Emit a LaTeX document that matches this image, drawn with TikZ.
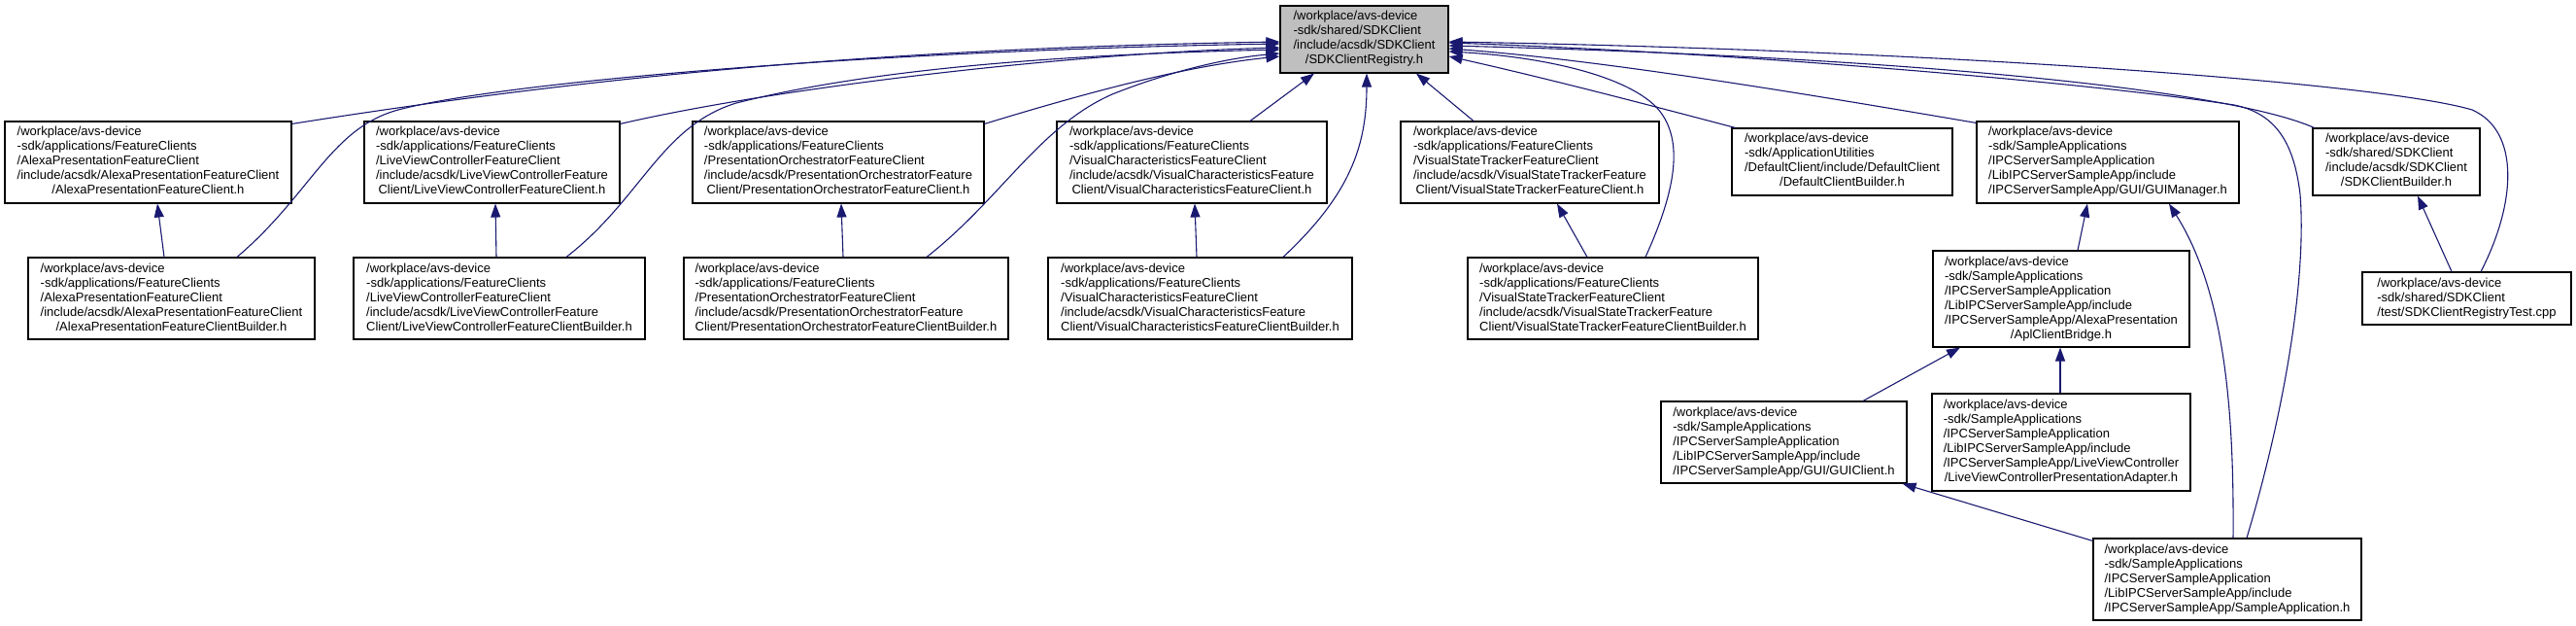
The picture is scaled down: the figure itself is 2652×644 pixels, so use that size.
\documentclass[tikz,border=0pt]{standalone}
\usepackage{fontspec}
\setmainfont{Liberation Sans}
\usetikzlibrary{arrows.meta}
\definecolor{edgeblue}{HTML}{191970}
\definecolor{topgray}{HTML}{BFBFBF}
\newcommand\lbl[2]{\begin{tabular}{@{}l@{}}#1\\\multicolumn{1}{@{}c@{}}{#2}\end{tabular}}
\begin{document}
\begin{tikzpicture}[x=1pt,y=-1pt,
  box/.style={draw=black, fill=white, line width=1.1pt, inner sep=0pt, rectangle,
    font=\fontsize{13}{15}\selectfont},
  h3/.style={minimum height=54pt},
  h4/.style={minimum height=69pt},
  h5/.style={minimum height=84pt},
  h6/.style={minimum height=99pt},
  dep/.style={draw=edgeblue, line width=1.1pt, -{Triangle[length=14pt,width=10pt]}}]
\useasboundingbox (0,0) rectangle (2652,644);

% nodes
\node[box,h4,fill=topgray,minimum width=173pt] (top) at (1404.5,40.5)
  {\lbl{/workplace/avs-device\\-sdk/shared/SDKClient\\/include/acsdk/SDKClient}{/SDKClientRegistry.h}};
\node[box,h5,minimum width=295pt] (a1) at (152.5,167)
  {\lbl{/workplace/avs-device\\-sdk/applications/FeatureClients\\/AlexaPresentationFeatureClient\\/include/acsdk/AlexaPresentationFeatureClient}{/AlexaPresentationFeatureClient.h}};
\node[box,h5,minimum width=295pt] (a2) at (176.5,307)
  {\lbl{/workplace/avs-device\\-sdk/applications/FeatureClients\\/AlexaPresentationFeatureClient\\/include/acsdk/AlexaPresentationFeatureClient}{/AlexaPresentationFeatureClientBuilder.h}};
\node[box,h5,minimum width=263pt] (l1) at (506.5,167)
  {\lbl{/workplace/avs-device\\-sdk/applications/FeatureClients\\/LiveViewControllerFeatureClient\\/include/acsdk/LiveViewControllerFeature}{Client/LiveViewControllerFeatureClient.h}};
\node[box,h5,minimum width=300pt] (l2) at (514,307)
  {\lbl{/workplace/avs-device\\-sdk/applications/FeatureClients\\/LiveViewControllerFeatureClient\\/include/acsdk/LiveViewControllerFeature}{Client/LiveViewControllerFeatureClientBuilder.h}};
\node[box,h5,minimum width=300pt] (p1) at (863,167)
  {\lbl{/workplace/avs-device\\-sdk/applications/FeatureClients\\/PresentationOrchestratorFeatureClient\\/include/acsdk/PresentationOrchestratorFeature}{Client/PresentationOrchestratorFeatureClient.h}};
\node[box,h5,minimum width=334pt] (p2) at (871,307)
  {\lbl{/workplace/avs-device\\-sdk/applications/FeatureClients\\/PresentationOrchestratorFeatureClient\\/include/acsdk/PresentationOrchestratorFeature}{Client/PresentationOrchestratorFeatureClientBuilder.h}};
\node[box,h5,minimum width=278pt] (v1) at (1227,167)
  {\lbl{/workplace/avs-device\\-sdk/applications/FeatureClients\\/VisualCharacteristicsFeatureClient\\/include/acsdk/VisualCharacteristicsFeature}{Client/VisualCharacteristicsFeatureClient.h}};
\node[box,h5,minimum width=313pt] (v2) at (1235.5,307)
  {\lbl{/workplace/avs-device\\-sdk/applications/FeatureClients\\/VisualCharacteristicsFeatureClient\\/include/acsdk/VisualCharacteristicsFeature}{Client/VisualCharacteristicsFeatureClientBuilder.h}};
\node[box,h5,minimum width=266pt] (vs1) at (1575,167)
  {\lbl{/workplace/avs-device\\-sdk/applications/FeatureClients\\/VisualStateTrackerFeatureClient\\/include/acsdk/VisualStateTrackerFeature}{Client/VisualStateTrackerFeatureClient.h}};
\node[box,h5,minimum width=299pt] (vs2) at (1660.5,307)
  {\lbl{/workplace/avs-device\\-sdk/applications/FeatureClients\\/VisualStateTrackerFeatureClient\\/include/acsdk/VisualStateTrackerFeature}{Client/VisualStateTrackerFeatureClientBuilder.h}};
\node[box,h4,minimum width=227pt] (dc) at (1896.5,166.5)
  {\lbl{/workplace/avs-device\\-sdk/ApplicationUtilities\\/DefaultClient/include/DefaultClient}{/DefaultClientBuilder.h}};
\node[box,h5,minimum width=270pt] (gm) at (2170,167)
  {\lbl{/workplace/avs-device\\-sdk/SampleApplications\\/IPCServerSampleApplication\\/LibIPCServerSampleApp/include}{/IPCServerSampleApp/GUI/GUIManager.h}};
\node[box,h4,minimum width=172pt] (sb) at (2467,166.5)
  {\lbl{/workplace/avs-device\\-sdk/shared/SDKClient\\/include/acsdk/SDKClient}{/SDKClientBuilder.h}};
\node[box,h6,minimum width=264pt] (ab) at (2122,307.5)
  {\lbl{/workplace/avs-device\\-sdk/SampleApplications\\/IPCServerSampleApplication\\/LibIPCServerSampleApp/include\\/IPCServerSampleApp/AlexaPresentation}{/AplClientBridge.h}};
\node[box,h3,minimum width=215pt] (rt) at (2539.5,307)
  {\lbl{/workplace/avs-device\\-sdk/shared/SDKClient}{/test/SDKClientRegistryTest.cpp}};
\node[box,h5,minimum width=253pt] (gc) at (1836.5,455)
  {\lbl{/workplace/avs-device\\-sdk/SampleApplications\\/IPCServerSampleApplication\\/LibIPCServerSampleApp/include}{/IPCServerSampleApp/GUI/GUIClient.h}};
\node[box,h6,minimum width=266pt,minimum height=100pt] (la) at (2122,455)
  {\lbl{/workplace/avs-device\\-sdk/SampleApplications\\/IPCServerSampleApplication\\/LibIPCServerSampleApp/include\\/IPCServerSampleApp/LiveViewController}{/LiveViewControllerPresentationAdapter.h}};
\node[box,h5,minimum width=276pt] (sa) at (2293,596)
  {\lbl{/workplace/avs-device\\-sdk/SampleApplications\\/IPCServerSampleApplication\\/LibIPCServerSampleApp/include}{/IPCServerSampleApp/SampleApplication.h}};

% edges into the top node, left side
\draw[dep] ([yshift=-3pt]a1.north east) .. controls (600,80) and (900,50) .. ([yshift=-2.5pt]top.west);
\draw[dep] ([xshift=67.5pt]a2.north) .. controls (320,200) and (340,132) .. (410,113)
  .. controls (520,84) and (900,52) .. ([yshift=-4.5pt]top.west);
\draw[dep] ([yshift=-3pt]l1.north east) .. controls (800,90) and (1100,55) .. ([yshift=-8.5pt]top.west);
\draw[dep] ([xshift=69pt]l2.north) .. controls (660,205) and (680,130) .. (758,106)
  .. controls (900,70) and (1100,56) .. ([yshift=-10.5pt]top.west);
\draw[dep] ([yshift=-3pt]p1.north east) .. controls (1120,95) and (1220,68) .. ([yshift=-17.5pt]top.west);
\draw[dep] ([xshift=83pt]p2.north) .. controls (1030,205) and (1070,130) .. (1145,97)
  .. controls (1200,75) and (1260,60) .. ([yshift=-14.5pt]top.west);

% edges into the top node, bottom
\draw[dep] ([xshift=60pt]v1.north) -- ([xshift=-51.5pt]top.south);
\draw[dep] ([xshift=85.5pt]v2.north) .. controls (1390,200) and (1407,150) .. ([xshift=2.5pt]top.south);
\draw[dep] ([xshift=-58pt]vs1.north) -- ([xshift=53.5pt]top.south);

% edges into the top node, right side
\draw[dep] ([xshift=33.5pt]vs2.north) .. controls (1728,190) and (1733,140) .. (1705,110)
  .. controls (1670,75) and (1580,58) .. ([yshift=-12.5pt]top.east);
\draw[dep] ([xshift=4pt]dc.north west) .. controls (1690,106) and (1590,80) .. ([yshift=-17.5pt]top.east);
\draw[dep] ([yshift=-2pt]gm.north west) .. controls (1850,95) and (1650,62) .. ([yshift=-9.5pt]top.east);
\draw[dep] ([xshift=2pt]sb.north west) .. controls (2300,95) and (2000,60) .. ([yshift=-6.5pt]top.east);
\draw[dep] ([xshift=20pt]sa.north) .. controls (2350,430) and (2375,290) .. (2368,200)
  .. controls (2362,150) and (2345,117) .. (2300,108)
  .. controls (2150,85) and (1800,55) .. ([yshift=-3.5pt]top.east);
\draw[dep] ([xshift=14.5pt]rt.north) .. controls (2590,210) and (2595,135) .. (2545,113)
  .. controls (2450,85) and (2000,52) .. ([yshift=-2.5pt]top.east);

% other edges
\draw[dep] ([xshift=-7.5pt]a2.north) -- ([xshift=9.5pt]a1.south);
\draw[dep] ([xshift=-3pt]l2.north) -- ([xshift=3.5pt]l1.south);
\draw[dep] ([xshift=-3pt]p2.north) -- ([xshift=3pt]p1.south);
\draw[dep] ([xshift=-3.5pt]v2.north) -- ([xshift=3pt]v1.south);
\draw[dep] ([xshift=-26.5pt]vs2.north) -- ([xshift=28pt]vs1.south);
\draw[dep] ([xshift=17pt]ab.north) -- ([xshift=-21pt]gm.south);
\draw[dep] ([xshift=6pt]sa.north) .. controls (2300,420) and (2290,300) .. ([xshift=63pt]gm.south);
\draw[dep] ([xshift=81.5pt]gc.north) -- ([xshift=-104pt]ab.south);
\draw[dep] ([xshift=-1pt]la.north) -- ([xshift=-1pt]ab.south);
\draw[dep] ([yshift=-3pt]sa.north west) -- ([xshift=-5pt]gc.south east);
\draw[dep] ([xshift=-15.5pt]rt.north) -- ([xshift=22pt]sb.south);
\end{tikzpicture}
\end{document}
